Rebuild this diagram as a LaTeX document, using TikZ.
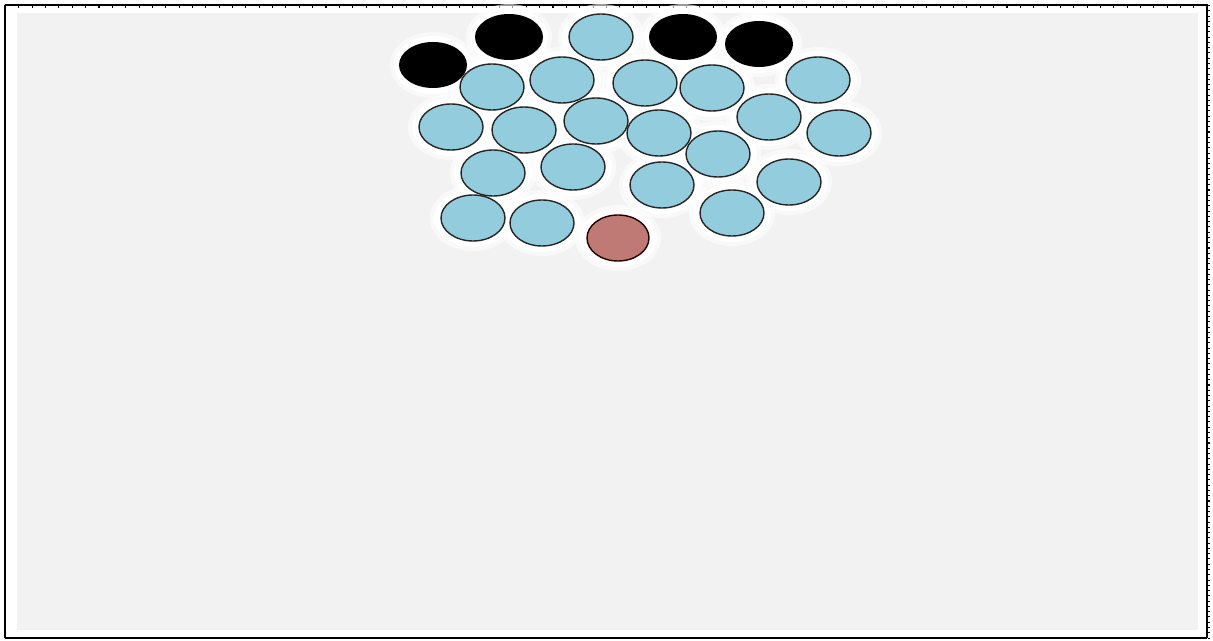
\documentclass[tikz,border=0pt]{standalone}
\usepackage{xcolor}
\usepackage{tikz}
\definecolor{discblue}{RGB}{147,205,221}
\definecolor{discred}{RGB}{192,122,118}
\definecolor{panelgray}{RGB}{242,242,242}

\begin{document}
\begin{tikzpicture}[x=0.02cm,y=-0.02cm]
        \useasboundingbox (0,0) rectangle (1213,641);
        \fill[white] (5,5) rectangle (1207,638);
        \fill[panelgray] (17,13) rectangle (1198,630);
        % frame
        \draw[black,line width=1.6pt] (5,638) -- (5,5);
        \draw[black,line width=1.2pt] (5,638) -- (1207,638);
        \draw[black,line width=0.9pt] (5,5) -- (1207,5) -- (1207,638);
        \draw[black,line width=1.2pt,dash pattern=on 0.6pt off 7pt] (5,7) -- (1207,7);
        \draw[black,line width=1.2pt,dash pattern=on 0.6pt off 2.4pt] (1209,5) -- (1209,638);
        % white glow behind the discs
        \foreach \x/\y in {
          433/65, 509/37, 683/37, 759/44,
          601/37, 492/87, 562/80, 645/83, 712/88, 818/80,
          451/127, 524/130, 596/121, 659/133, 769/117, 839/133,
          493/173, 573/167, 718/154, 662/185, 789/182,
          473/218, 542/223, 732/213, 618/238}{
          \fill[white,opacity=0.6] (\x,\y) ellipse [x radius=43, y radius=33];
          \fill[white] (\x,\y) ellipse [x radius=39, y radius=29];
        }
        % black discs
        \foreach \x/\y in {433/65, 509/37, 683/37, 759/44}{
          \fill[black] (\x,\y) ellipse [x radius=34, y radius=23];
        }
        % blue discs
        \foreach \x/\y in {
          601/37, 492/87, 562/80, 645/83, 712/88, 818/80,
          451/127, 524/130, 596/121, 659/133, 769/117, 839/133,
          493/173, 573/167, 718/154, 662/185, 789/182,
        473/218, 542/223, 732/213}{
          \draw[fill=discblue,draw=black!85,line width=0.8pt] (\x,\y) ellipse [x radius=32, y radius=23];
        }
        \draw[fill=discred,draw=black!85!red,line width=0.8pt] (618,238) ellipse [x radius=31, y radius=23];
      \end{tikzpicture}
\end{document}
